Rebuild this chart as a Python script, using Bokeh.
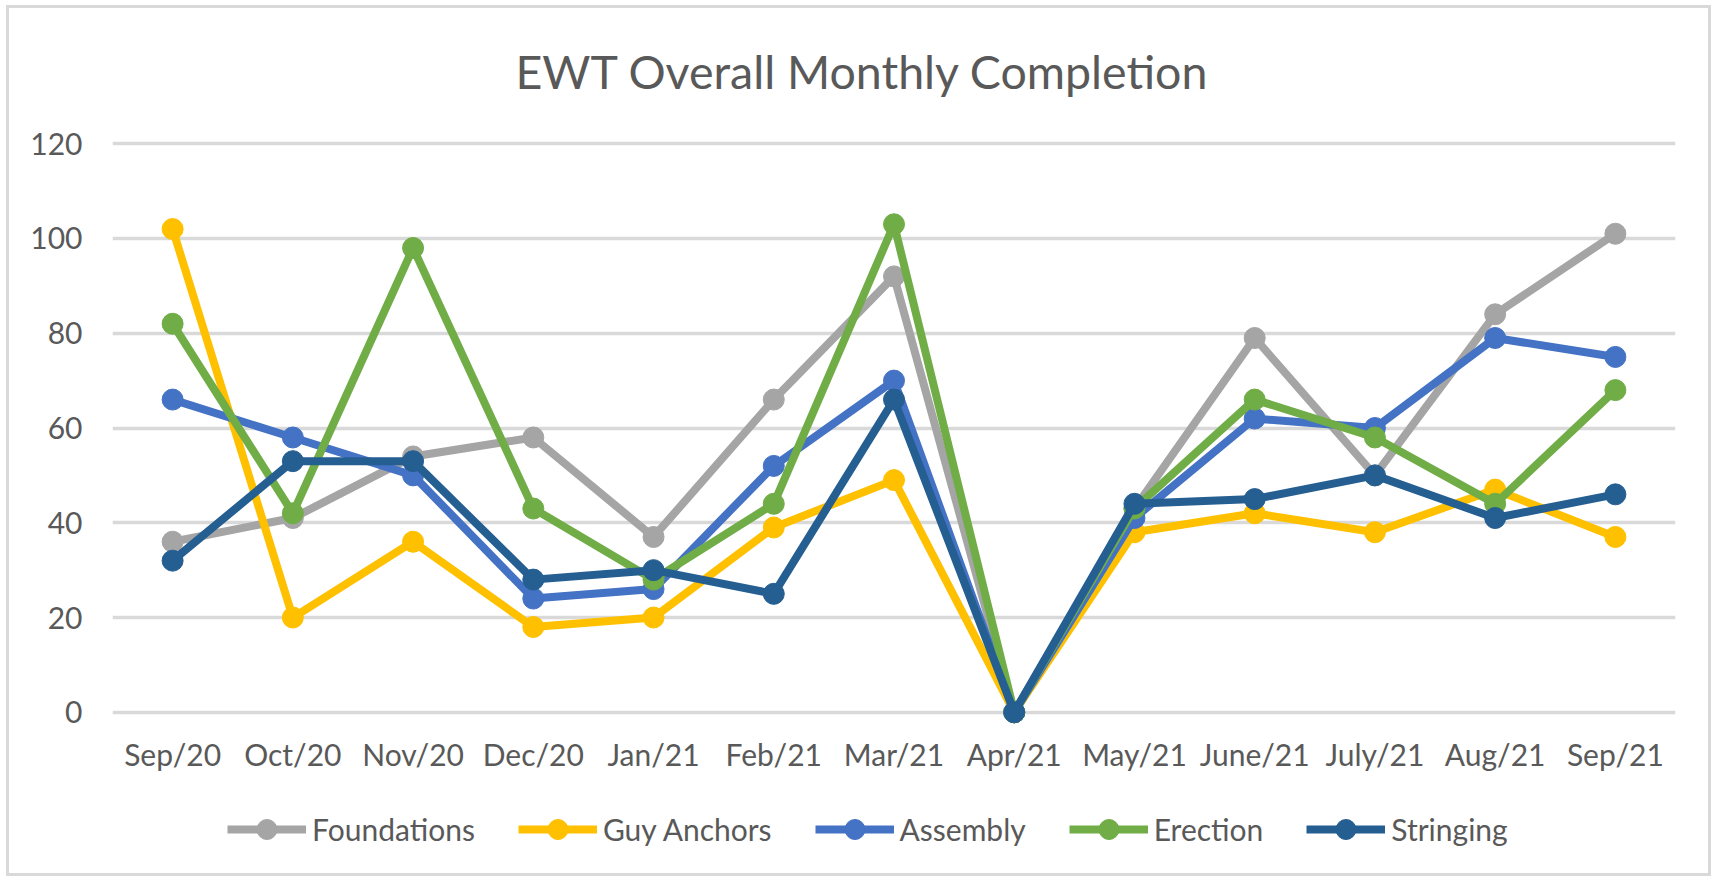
from bokeh.plotting import figure
from bokeh.layouts import column
from bokeh.models import FactorRange, Range1d, FixedTicker, Legend, LegendItem
from bokeh.embed import file_html
from bokeh.resources import INLINE

months = ["Sep/20", "Oct/20", "Nov/20", "Dec/20", "Jan/21", "Feb/21", "Mar/21",
          "Apr/21", "May/21", "June/21", "July/21", "Aug/21", "Sep/21"]
foundations = [36, 41, 54, 58, 37, 66, 92, 0, 43, 79, 50, 84, 101]
guy_anchors = [102, 20, 36, 18, 20, 39, 49, 0, 38, 42, 38, 47, 37]
assembly = [66, 58, 50, 24, 26, 52, 70, 0, 41, 62, 60, 79, 75]
erection = [82, 42, 98, 43, 28, 44, 103, 0, 43, 66, 58, 44, 68]
stringing = [32, 53, 53, 28, 30, 25, 66, 0, 44, 45, 50, 41, 46]
y_ticks = [0, 20, 40, 60, 80, 100, 120]

series = [
    ("Foundations", foundations, "#A5A5A5"),
    ("Guy Anchors", guy_anchors, "#FFC000"),
    ("Assembly", assembly, "#4472C4"),
    ("Erection", erection, "#70AD47"),
    ("Stringing", stringing, "#255E91"),
]

FONT = "Lato"
TXT = "#595959"

p = figure(x_range=FactorRange(*months), y_range=Range1d(-3, 123),
           width=1699, height=780, output_backend="svg", toolbar_location=None,
           min_border_left=103, min_border_right=33, min_border_top=121,
           min_border_bottom=62,
           title="EWT Overall Monthly Completion")
p.outline_line_color = None
p.background_fill_color = "white"
p.border_fill_color = "white"

p.title.text_font = FONT
p.title.text_font_size = "46.5px"
p.title.text_font_style = "normal"
p.title.text_color = TXT
p.title.align = "left"
p.title.offset = 403
p.title.standoff = 61

p.xgrid.grid_line_color = None
p.ygrid.grid_line_color = "#D9D9D9"
p.ygrid.grid_line_width = 3.5
p.yaxis.ticker = FixedTicker(ticks=y_ticks)

for ax in (p.xaxis, p.yaxis):
    ax.axis_line_color = None
    ax.major_tick_line_color = None
    ax.minor_tick_line_color = None
    ax.major_label_text_font = FONT
    ax.major_label_text_font_size = "30px"
    ax.major_label_text_color = TXT
p.yaxis.major_label_standoff = 24
p.xaxis.major_label_standoff = 3

for name, vals, color in series:
    p.line(months, vals, line_color=color, line_width=8, line_join="round")
    p.scatter(months, vals, size=21, fill_color=color, line_color=color)

# legend strip below the chart
pl = figure(x_range=Range1d(0, 1), y_range=Range1d(0, 1), width=1699, height=85,
            output_backend="svg", toolbar_location=None,
            min_border_left=0, min_border_right=0, min_border_top=0,
            min_border_bottom=0)
pl.axis.visible = False
pl.grid.visible = False
pl.outline_line_color = None
pl.border_fill_color = "white"

items = []
for name, vals, color in series:
    r1 = pl.line([-10, -9], [-10, -10], line_color=color, line_width=8)
    r2 = pl.scatter([-10], [-10], size=21, fill_color=color, line_color=color)
    items.append(LegendItem(label=name, renderers=[r1, r2]))

legend = Legend(items=items, orientation="horizontal", location=(115, 19),
                glyph_width=79, glyph_height=50, label_height=50,
                label_standoff=6, spacing=43, padding=0, margin=0,
                border_line_color=None, background_fill_alpha=0,
                label_text_font=FONT, label_text_font_size="30px",
                label_text_color=TXT, label_text_baseline="middle")
pl.add_layout(legend, "center")

layout = column(p, pl, spacing=0)
layout.styles = {"border": "3px solid #D9D9D9", "margin-left": "6px", "margin-top": "5px"}

open("out.html", "w").write(file_html(layout, INLINE))
